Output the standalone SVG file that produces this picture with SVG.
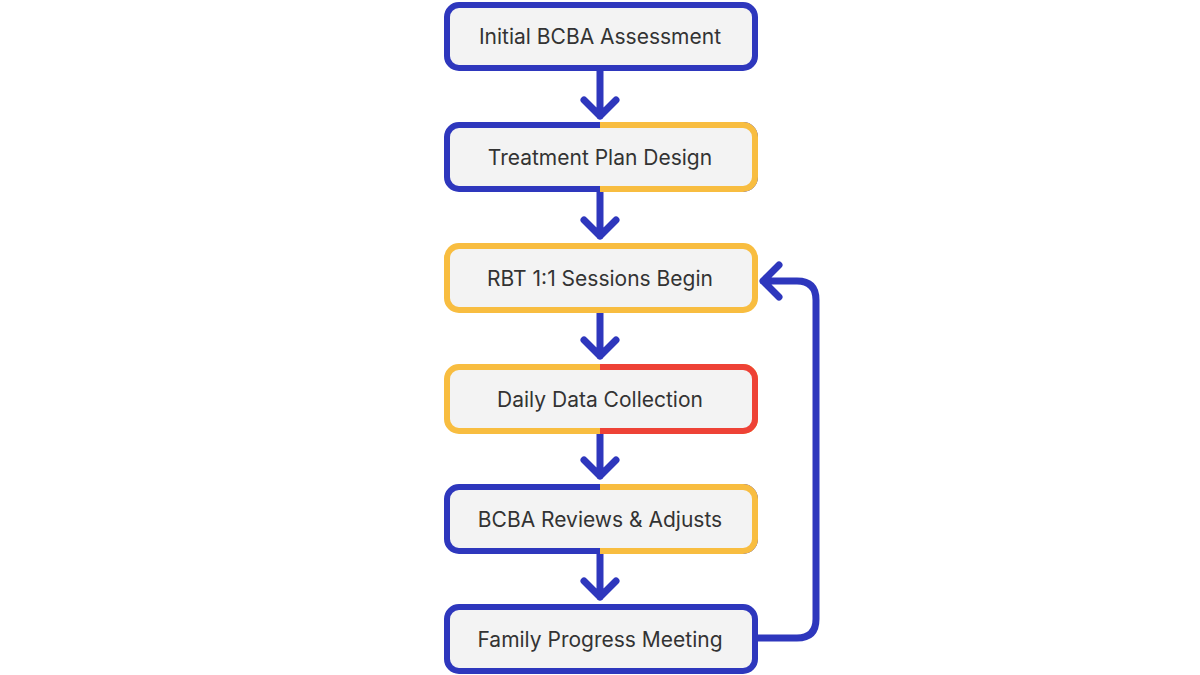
<svg xmlns="http://www.w3.org/2000/svg" width="1200" height="675" viewBox="0 0 1200 675">
<defs>
<style>
.box{fill:#f3f3f3;stroke-width:6}
.b{stroke:#2e37bd}.y{stroke:#f8bd40}.r{stroke:#ee4236}
.t{font-family:Inter,"Liberation Sans",sans-serif;font-size:21px;fill:#333;text-anchor:middle}
.ln{fill:none;stroke:#2e37bd;stroke-width:7;stroke-linecap:round;stroke-linejoin:round}
</style>
<clipPath id="rh"><rect x="600" y="0" width="600" height="675"/></clipPath>
</defs>
<rect width="1200" height="675" fill="#fff"/>
<g id="connectors">
<path class="ln" d="M600 70V116M584 100L600 116L616 100"/>
<path class="ln" d="M600 190V236M584 220L600 236L616 220"/>
<path class="ln" d="M600 312V356M584 340L600 356L616 340"/>
<path class="ln" d="M600 433V476M584 460L600 476L616 460"/>
<path class="ln" d="M600 553V597M584 581L600 597L616 581"/>
<path class="ln" d="M757 638H797Q816 638 816 619V300Q816 281 797 281H763M779 265L763 281L779 297"/>
</g>
<g id="n1"><rect class="box b" x="447" y="5" width="308" height="63" rx="12"/><text class="t" x="600" y="44">Initial BCBA Assessment</text></g>
<g id="n2"><rect class="box b" x="447" y="125" width="308" height="64" rx="12"/><rect class="box y" x="447" y="125" width="308" height="64" rx="12" clip-path="url(#rh)"/><text class="t" x="600" y="165">Treatment Plan Design</text></g>
<g id="n3"><rect class="box y" x="447" y="246" width="308" height="64" rx="12"/><text class="t" x="600" y="286">RBT 1:1 Sessions Begin</text></g>
<g id="n4"><rect class="box y" x="447" y="367" width="308" height="64" rx="12"/><rect class="box r" x="447" y="367" width="308" height="64" rx="12" clip-path="url(#rh)"/><text class="t" x="600" y="407">Daily Data Collection</text></g>
<g id="n5"><rect class="box b" x="447" y="487" width="308" height="64" rx="12"/><rect class="box y" x="447" y="487" width="308" height="64" rx="12" clip-path="url(#rh)"/><text class="t" x="600" y="527">BCBA Reviews &amp; Adjusts</text></g>
<g id="n6"><rect class="box b" x="447" y="607" width="308" height="64" rx="12"/><text class="t" x="600" y="647">Family Progress Meeting</text></g>
</svg>
